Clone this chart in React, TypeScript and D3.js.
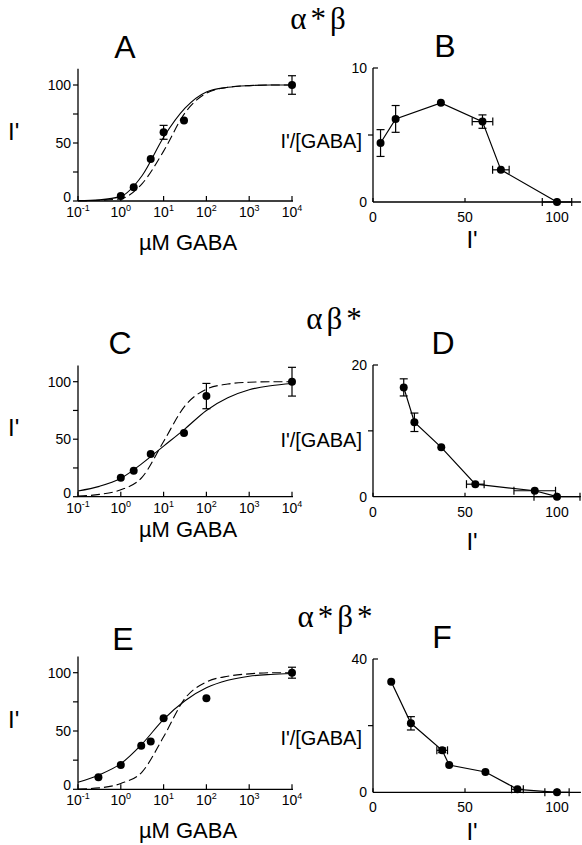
import React from 'react';
import * as d3 from 'd3';

// ---- data ----
// dose-response (µM GABA vs normalised current I')
const doseA = [1, 2, 5, 10, 30, 10000];
const currA = [4.3, 11.8, 36.2, 59.2, 69.5, 100];
const errA = [0, 0, 0, 6, 0, 8];

const doseC = [1, 2, 5, 30, 100, 10000];
const currC = [16.5, 22.6, 37.1, 55.4, 87.5, 100];
const errC = [0, 0, 0, 0, 11, 12.5];

const doseE = [0.3, 1, 3, 5, 10, 100, 10000];
const currE = [10.3, 20.9, 37.4, 40.9, 60.9, 78, 100];
const errE = [0, 0, 0, 0, 0, 0, 4.7];

// fitted curves, read at half-decade steps
const fitDose = [0.1, 0.316, 1, 3.16, 10, 31.6, 100, 316, 1000, 3162, 10000];
const fitSolidA = [0.3, 1, 4, 22, 55, 80, 94, 98, 99.5, 100, 100];
const fitDashA = [0.2, 0.6, 2, 15, 43, 76, 93, 98, 99.5, 100, 100];
const fitSolidC = [5, 9, 16, 29, 44, 59, 75, 86, 93, 96.5, 98.5];
const fitDashC = [0.5, 2, 6, 17, 48, 79, 93.5, 98, 99.5, 100, 100];
const fitSolidE = [6, 12.5, 22, 39, 60, 76, 87, 93.5, 97, 98.5, 99.3];
const fitDashE = [0.3, 1.2, 5, 15, 45, 78, 92, 97, 99, 100, 100];

// Scatchard-like plots (I' vs I'/[GABA])
const relB = [4.1, 12.3, 36.9, 59.5, 69.5, 100];
const ratioB = [4.4, 6.2, 7.4, 6.0, 2.4, 0];
const ratioErrB = [1.0, 1.0, 0, 0.5, 0, 0];
const relErrB = [0, 0, 0, 5.6, 4.5, 8];

const relD = [16.7, 22.5, 37.1, 55.6, 87.9, 100];
const ratioD = [16.6, 11.3, 7.5, 1.9, 0.9, 0];
const ratioErrD = [1.3, 1.4, 0, 0, 0, 0];
const relErrD = [0, 0, 0, 4.8, 11.3, 12.5];

const relF = [9.9, 20.6, 37.6, 41.4, 61.1, 78.5, 100];
const ratioF = [33.2, 20.7, 12.6, 8.2, 6.1, 0.9, 0];
const ratioErrF = [0, 2, 0.7, 0, 0, 0, 0];
const relErrF = [0, 0, 2.9, 0, 0, 3.2, 6.6];

const logExps = [-1, 0, 1, 2, 3, 4];
const doseYTicks = [0, 25, 50, 75, 100];
const doseYLabels = [0, 50, 100];
const relTicks = [0, 50, 100];

const titles = ['α*β', 'αβ*', 'α*β*'];
const letters = ['A', 'B', 'C', 'D', 'E', 'F'];

const SANS = '"Liberation Sans", Arial, Helvetica, sans-serif';
const SERIF = '"Liberation Serif", "Times New Roman", serif';

function DosePanel({ dose, curr, err, solid, dashed, y0, y100, row }: any) {
  const x = d3.scaleLog().domain([0.1, 10000]).range([78, 292]);
  const y = d3.scaleLinear().domain([0, 100]).range([y0, y100]);
  const line = d3
    .line<number>()
    .x((_, i) => x(fitDose[i]))
    .y((d) => y(d))
    .curve(d3.curveMonotoneX);
  const xLabelDy = row === 1 ? 40 : 49;
  return (
    <g>
      <path d={line(solid) || ''} fill="none" stroke="#000" strokeWidth={1.1} />
      <path d={line(dashed) || ''} fill="none" stroke="#000" strokeWidth={1.1} strokeDasharray="9,4" />
      <line x1={x(0.1)} x2={x(10000) + 1} y1={y(0)} y2={y(0)} stroke="#000" strokeWidth={1.3} />
      <line x1={x(0.1)} x2={x(0.1)} y1={y(0)} y2={y(114)} stroke="#000" strokeWidth={1.3} />
      {doseYTicks.map((t) => (
        <line key={t} x1={x(0.1) - 5} x2={x(0.1)} y1={y(t)} y2={y(t)} stroke="#000" strokeWidth={1.2} />
      ))}
      {doseYLabels.map((t) => (
        <text key={t} x={x(0.1) - 7} y={y(t) + (t === 0 ? 1 : 5)} textAnchor="end" fontSize={14} fontFamily={SANS}>
          {t}
        </text>
      ))}
      {logExps.map((e) => (
        <g key={e}>
          <line x1={x(10 ** e)} x2={x(10 ** e)} y1={y(0)} y2={y(0) - 5} stroke="#000" strokeWidth={1.2} />
          <text x={x(10 ** e)} y={y(0) + 16} textAnchor="middle" fontSize={14} fontFamily={SANS}>
            10<tspan fontSize={9} dy={-6}>{e}</tspan>
          </text>
        </g>
      ))}
      {dose.map((d: number, i: number) =>
        err[i] > 0 ? (
          <g key={'e' + i} stroke="#000" strokeWidth={1.2}>
            <line x1={x(d)} x2={x(d)} y1={y(curr[i] - err[i])} y2={y(curr[i] + err[i])} />
            <line x1={x(d) - 4} x2={x(d) + 4} y1={y(curr[i] - err[i])} y2={y(curr[i] - err[i])} />
            <line x1={x(d) - 4} x2={x(d) + 4} y1={y(curr[i] + err[i])} y2={y(curr[i] + err[i])} />
          </g>
        ) : null
      )}
      {dose.map((d: number, i: number) => (
        <circle key={i} cx={x(d)} cy={y(curr[i])} r={4} fill="#000" />
      ))}
      <text x={8} y={y(0) - 61} fontSize={24} fontFamily={SANS}>I'</text>
      <text x={188} y={y(0) + xLabelDy} textAnchor="middle" fontSize={22} fontFamily={SANS}>µM GABA</text>
    </g>
  );
}

function RatioPanel({ rel, ratio, ratioErr, relErr, yMax, y0, yTop, labelY, row }: any) {
  const x = d3.scaleLinear().domain([0, 100]).range([373, 557]);
  const y = d3.scaleLinear().domain([0, yMax]).range([y0, yTop]);
  const line = d3
    .line<number>()
    .x((d) => x(d))
    .y((_, i) => y(ratio[i]));
  const xLabelDy = row === 0 ? 46 : row === 1 ? 53 : 48;
  return (
    <g>
      <line x1={x(0)} x2={x(113)} y1={y(0)} y2={y(0)} stroke="#000" strokeWidth={1.3} />
      <line x1={x(0)} x2={x(0)} y1={y(0)} y2={y(yMax)} stroke="#000" strokeWidth={1.3} />
      <line x1={x(0)} x2={x(0) + 5} y1={y(yMax)} y2={y(yMax)} stroke="#000" strokeWidth={1.2} />
      <line x1={x(0) - 5} x2={x(0)} y1={y(yMax / 2)} y2={y(yMax / 2)} stroke="#000" strokeWidth={1.2} />
      {[0, yMax].map((t) => (
        <text key={t} x={x(0) - 6} y={y(t) + 5} textAnchor="end" fontSize={14} fontFamily={SANS}>
          {t}
        </text>
      ))}
      {relTicks.map((t) => (
        <g key={t}>
          <line x1={x(t)} x2={x(t)} y1={y(0)} y2={y(0) - 4} stroke="#000" strokeWidth={1.2} />
          <text x={x(t)} y={y(0) + 20} textAnchor="middle" fontSize={14} fontFamily={SANS}>
            {t}
          </text>
        </g>
      ))}
      <path d={line(rel) || ''} fill="none" stroke="#000" strokeWidth={1.2} />
      {rel.map((d: number, i: number) => (
        <g key={'e' + i} stroke="#000" strokeWidth={1.2}>
          {ratioErr[i] > 0 && (
            <>
              <line x1={x(d)} x2={x(d)} y1={y(ratio[i] - ratioErr[i])} y2={y(ratio[i] + ratioErr[i])} />
              <line x1={x(d) - 4} x2={x(d) + 4} y1={y(ratio[i] - ratioErr[i])} y2={y(ratio[i] - ratioErr[i])} />
              <line x1={x(d) - 4} x2={x(d) + 4} y1={y(ratio[i] + ratioErr[i])} y2={y(ratio[i] + ratioErr[i])} />
            </>
          )}
          {relErr[i] > 0 && (
            <>
              <line x1={x(d - relErr[i])} x2={x(d + relErr[i])} y1={y(ratio[i])} y2={y(ratio[i])} />
              <line x1={x(d - relErr[i])} x2={x(d - relErr[i])} y1={y(ratio[i]) - 4} y2={y(ratio[i]) + 4} />
              <line x1={x(d + relErr[i])} x2={x(d + relErr[i])} y1={y(ratio[i]) - 4} y2={y(ratio[i]) + 4} />
            </>
          )}
        </g>
      ))}
      {rel.map((d: number, i: number) => (
        <circle key={i} cx={x(d)} cy={y(ratio[i])} r={4} fill="#000" />
      ))}
      <text x={362} y={labelY} textAnchor="end" fontSize={20} fontFamily={SANS}>I'/[GABA]</text>
      <text x={472} y={y(0) + xLabelDy} textAnchor="middle" fontSize={24} fontFamily={SANS}>I'</text>
    </g>
  );
}

export default function App() {
  const titlePos = [
    { x: 320, y: 29 },
    { x: 336, y: 329 },
    { x: 337, y: 627 },
  ];
  const letterPos = [
    { x: 125, y: 58 },
    { x: 445, y: 57 },
    { x: 120, y: 354 },
    { x: 443, y: 354 },
    { x: 123, y: 650 },
    { x: 442, y: 648 },
  ];
  return (
    <svg
      width={582}
      height={845}
      style={{ position: 'absolute', left: 0, top: 0, background: '#fff' }}
    >
      {titles.map((t, i) => (
        <text
          key={t}
          x={titlePos[i].x}
          y={titlePos[i].y}
          textAnchor="middle"
          fontSize={31}
          fontFamily={SERIF}
          letterSpacing={4}
        >
          {t}
        </text>
      ))}
      {letters.map((l, i) => (
        <text key={l} x={letterPos[i].x} y={letterPos[i].y} textAnchor="middle" fontSize={32} fontFamily={SANS}>
          {l}
        </text>
      ))}
      <DosePanel dose={doseA} curr={currA} err={errA} solid={fitSolidA} dashed={fitDashA} y0={201} y100={85} row={0} />
      <DosePanel dose={doseC} curr={currC} err={errC} solid={fitSolidC} dashed={fitDashC} y0={496.7} y100={381.7} row={1} />
      <DosePanel dose={doseE} curr={currE} err={errE} solid={fitSolidE} dashed={fitDashE} y0={789.3} y100={672.7} row={2} />
      <RatioPanel rel={relB} ratio={ratioB} ratioErr={ratioErrB} relErr={relErrB} yMax={10} y0={202} yTop={68} labelY={148} row={0} />
      <RatioPanel rel={relD} ratio={ratioD} ratioErr={ratioErrD} relErr={relErrD} yMax={20} y0={496.7} yTop={365} labelY={447} row={1} />
      <RatioPanel rel={relF} ratio={ratioF} ratioErr={ratioErrF} relErr={relErrF} yMax={40} y0={792.3} yTop={659} labelY={745} row={2} />
    </svg>
  );
}
